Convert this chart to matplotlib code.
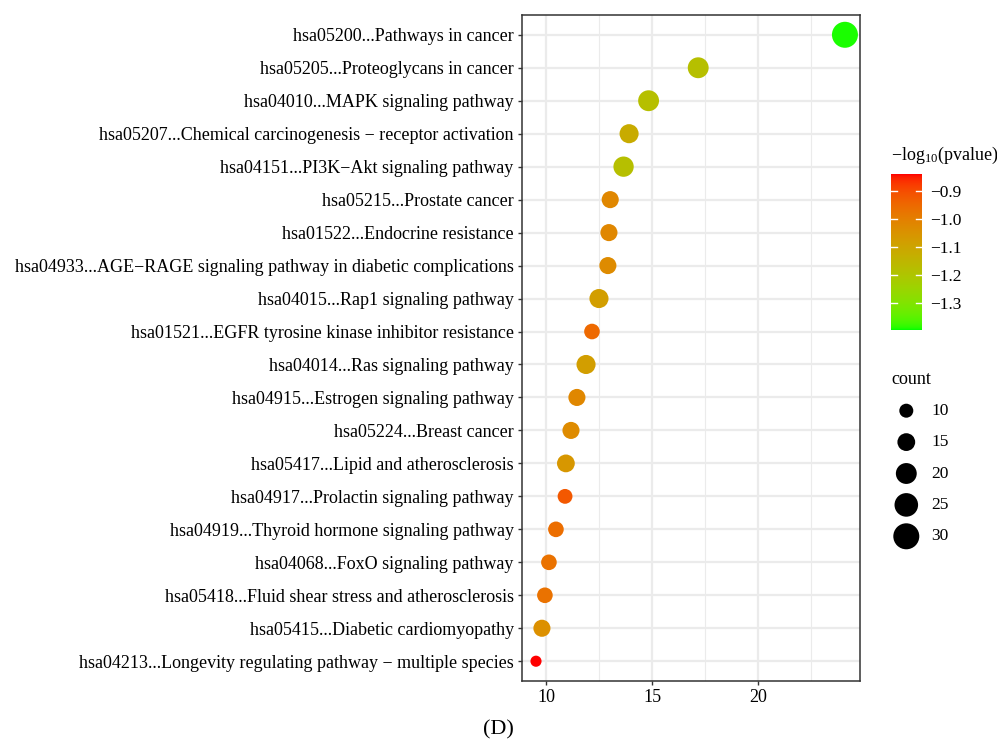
import numpy as np
import matplotlib
matplotlib.use("Agg")
import matplotlib.pyplot as plt
from matplotlib.colors import ListedColormap, Normalize

plt.rcParams['font.family'] = ['Liberation Serif', 'DejaVu Serif']
plt.rcParams['mathtext.fontset'] = 'custom'
plt.rcParams['mathtext.rm'] = 'Liberation Serif'
plt.rcParams['mathtext.it'] = 'Liberation Serif:italic'

# pathways, top to bottom
pathways = [
    "hsa05200...Pathways in cancer",
    "hsa05205...Proteoglycans in cancer",
    "hsa04010...MAPK signaling pathway",
    "hsa05207...Chemical carcinogenesis \u2212 receptor activation",
    "hsa04151...PI3K\u2212Akt signaling pathway",
    "hsa05215...Prostate cancer",
    "hsa01522...Endocrine resistance",
    "hsa04933...AGE\u2212RAGE signaling pathway in diabetic complications",
    "hsa04015...Rap1 signaling pathway",
    "hsa01521...EGFR tyrosine kinase inhibitor resistance",
    "hsa04014...Ras signaling pathway",
    "hsa04915...Estrogen signaling pathway",
    "hsa05224...Breast cancer",
    "hsa05417...Lipid and atherosclerosis",
    "hsa04917...Prolactin signaling pathway",
    "hsa04919...Thyroid hormone signaling pathway",
    "hsa04068...FoxO signaling pathway",
    "hsa05418...Fluid shear stress and atherosclerosis",
    "hsa05415...Diabetic cardiomyopathy",
    "hsa04213...Longevity regulating pathway \u2212 multiple species",
]
x_values = [24.1, 17.18, 14.84, 13.92, 13.66, 13.03, 12.97, 12.92, 12.5, 12.17,
            11.89, 11.46, 11.18, 10.94, 10.9, 10.47, 10.14, 9.95, 9.81, 9.53]
counts = [30, 20, 20, 17, 19, 14, 14, 14, 17, 12,
          17, 14, 14, 15, 11, 12, 12, 12, 14, 7]
neglog_p = [-1.39, -1.18, -1.18, -1.12, -1.18, -1.02, -1.02, -1.03, -1.08, -0.95,
            -1.08, -1.02, -1.03, -1.06, -0.92, -0.96, -0.97, -0.97, -1.04, -0.84]
legend_counts = [10, 15, 20, 25, 30]
cbar_ticks = [-0.9, -1.0, -1.1, -1.2, -1.3]


def srgb_to_lab(rgb):
    rgb = np.asarray(rgb, float)
    lin = np.where(rgb <= 0.04045, rgb / 12.92, ((rgb + 0.055) / 1.055) ** 2.4)
    M = np.array([[0.4124, 0.3576, 0.1805],
                  [0.2126, 0.7152, 0.0722],
                  [0.0193, 0.1192, 0.9505]])
    xyz = M @ lin / np.array([0.95047, 1.0, 1.08883])
    f = np.where(xyz > 0.008856, np.cbrt(xyz), 7.787 * xyz + 16 / 116)
    return np.array([116 * f[1] - 16, 500 * (f[0] - f[1]), 200 * (f[1] - f[2])])


def lab_to_srgb(lab):
    L, a, b = lab
    fy = (L + 16) / 116
    fx = fy + a / 500
    fz = fy - b / 200
    f = np.array([fx, fy, fz])
    xyz = np.where(f ** 3 > 0.008856, f ** 3, (f - 16 / 116) / 7.787)
    xyz = xyz * np.array([0.95047, 1.0, 1.08883])
    Minv = np.array([[3.2406, -1.5372, -0.4986],
                     [-0.9689, 1.8758, 0.0415],
                     [0.0557, -0.2040, 1.0570]])
    lin = np.clip(Minv @ xyz, 0, 1)
    rgb = np.where(lin <= 0.0031308, 12.92 * lin, 1.055 * lin ** (1 / 2.4) - 0.055)
    return np.clip(rgb, 0, 1)


# green (low) -> red (high), interpolated in Lab like ggplot
lab_lo = srgb_to_lab([0, 1, 0])
lab_hi = srgb_to_lab([1, 0, 0])
cmap = ListedColormap([lab_to_srgb(lab_lo + t * (lab_hi - lab_lo))
                       for t in np.linspace(0, 1, 256)])
norm = Normalize(vmin=-1.396, vmax=-0.84)


def size_pt2(c):
    area_px = 24.0 * np.asarray(c, float) - 44.0
    return area_px * 0.72 ** 2


fig = plt.figure(figsize=(9.97, 7.42), dpi=100)
ax = fig.add_axes([522 / 997, 1 - 681 / 742, 338 / 997, 666 / 742])

y = np.arange(len(pathways))[::-1]
ax.scatter(x_values, y, s=size_pt2(counts), c=neglog_p, cmap=cmap, norm=norm,
           linewidths=0, zorder=3, clip_on=False)

ax.set_xlim(8.87, 24.81)
ax.set_ylim(-0.6, len(pathways) - 0.4)
ax.set_xticks([10, 15, 20])
ax.set_xticks([12.5, 17.5, 22.5], minor=True)
ax.set_yticks(y)
ax.set_yticklabels(pathways)
ax.grid(True, which='major', color='#EBEBEB', linewidth=1.6, zorder=0)
ax.grid(True, which='minor', axis='x', color='#EBEBEB', linewidth=0.8, zorder=0)
ax.set_axisbelow(True)
ax.tick_params(which='major', length=3, width=1, color='#333333',
               labelsize=13, labelcolor='black', pad=3)
ax.tick_params(which='minor', length=0)
for sp in ax.spines.values():
    sp.set_color('#333333')
    sp.set_linewidth(1.1)

# colourbar
cax = fig.add_axes([891 / 997, 1 - 330 / 742, 31 / 997, 156 / 742])
grad = np.linspace(norm.vmin, norm.vmax, 256).reshape(-1, 1)
cax.imshow(grad, aspect='auto', origin='lower', cmap=cmap, norm=norm,
           extent=[0, 1, norm.vmin, norm.vmax])
cax.set_xlim(0, 1)
cax.set_ylim(norm.vmin, norm.vmax)
cax.set_xticks([])
cax.yaxis.tick_right()
cax.set_yticks(cbar_ticks)
cax.set_yticklabels([f"\u2212{abs(v):.1f}" for v in cbar_ticks])
cax.tick_params(axis='y', length=0, labelsize=12.5, pad=6)
for sp in cax.spines.values():
    sp.set_visible(False)
for v in cbar_ticks:
    cax.plot([0, 0.2], [v, v], color='white', lw=1)
    cax.plot([0.8, 1], [v, v], color='white', lw=1)
fig.text(891 / 997, 1 - 155 / 742, r'$-\mathregular{log}_{10}$(pvalue)',
         fontsize=13, ha='left', va='center')

# size legend
fig.text(891 / 997, 1 - 379 / 742, 'count', fontsize=13, ha='left', va='center')
lax = fig.add_axes([891 / 997, 1 - 552 / 742, 90 / 997, 157 / 742])
lax.set_xlim(0, 1)
lax.set_ylim(len(legend_counts) - 0.5, -0.5)
lax.axis('off')
ly = np.arange(len(legend_counts))
lax.scatter(np.full(len(ly), 0.17), ly, s=size_pt2(legend_counts), color='black',
            linewidths=0)
for yy, c in zip(ly, legend_counts):
    lax.text(0.45, yy, str(c), fontsize=12.5, ha='left', va='center')

fig.text(0.5, 1 - 730 / 742, '(D)', fontsize=16, ha='center', va='center')

fig.savefig('out.png', dpi=100)
